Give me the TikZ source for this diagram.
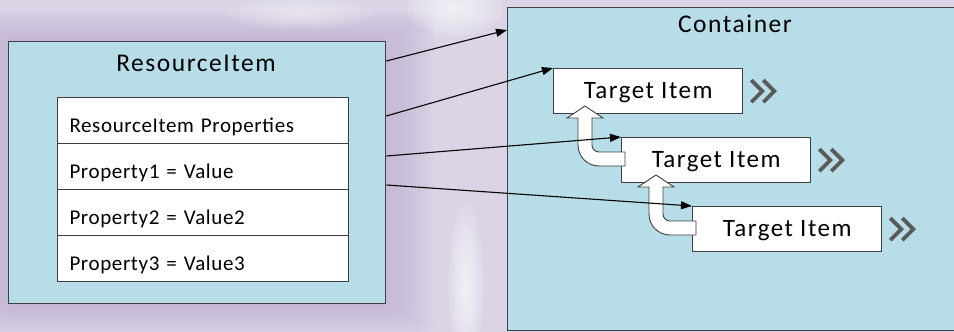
\documentclass[tikz,border=0pt]{standalone}
\usepackage{fontspec}
\setmainfont{Carlito}
\usetikzlibrary{calc,arrows.meta}

\definecolor{bglav}{HTML}{DBD4E6}
\definecolor{halo}{HTML}{BFB1D3}
\definecolor{boxblue}{HTML}{B7DEE8}
\definecolor{edge}{HTML}{3F3F3F}
\definecolor{chev}{HTML}{5A5A5A}

\newfontfamily\rowfont[LetterSpace=3]{Carlito}
\newfontfamily\bigfont[LetterSpace=6]{Carlito}

\begin{document}
\begin{tikzpicture}[x=1pt,y=-1pt,
  panel/.style={draw=edge, line width=1.3pt, fill=boxblue, rectangle, inner sep=0pt, anchor=north west},
  row/.style={draw=edge, line width=1pt, fill=white, rectangle, anchor=north west,
    inner xsep=12pt, inner ysep=0pt, text width=267pt, align=left,
    minimum height=46pt, text height=23pt, text depth=0pt,
    font=\rowfont\fontsize{21}{24}\selectfont},
  target/.style={draw=edge, line width=1.3pt, fill=white, rectangle, anchor=north west,
    inner sep=0pt, minimum width=189pt, minimum height=45pt,
    text height=15pt, text depth=0pt, font=\bigfont\fontsize{25}{28}\selectfont},
  heading/.style={anchor=base, inner sep=0pt, font=\bigfont\fontsize{25.5}{28}\selectfont},
  link/.style={line width=1.1pt, -{Triangle[length=11pt,width=8pt]}},
  bendarrow/.style={draw=edge, line width=0.9pt, fill=white, line join=miter},
  chevron/.style={draw=chev, line width=3.8pt, line cap=butt, line join=miter},
]
\useasboundingbox (0,0) rectangle (954,332);
\clip (0,0) rectangle (954,332);

% backdrop
\fill[bglav] (0,0) rectangle (954,332);
\foreach \i in {1,...,12}
  \fill[halo, opacity=0.09, rounded corners=12pt]
    ($(8,41)+(-3*\i,-2.5*\i)$) rectangle ($(385,303)+(4*\i,2.5*\i)$);
\foreach \i in {1,...,8} {
  \fill[white, opacity=0.12] (455,8) ellipse ({6*\i} and {3.5*\i});
  \fill[white, opacity=0.12] (466,285) ellipse ({2.2*\i} and {10*\i});
  \fill[white, opacity=0.08] (300,14) ellipse ({9*\i} and {2*\i});
}

% source object
\node[panel, minimum width=377pt, minimum height=262pt] (res) at (8,41) {};
\node[heading] (restitle) at (196,71) {ResourceItem};
\node[row] (p0) at (57,97)  {ResourceItem Properties};
\node[row] (p1) at (57,143) {Property1 = Value};
\node[row] (p2) at (57,189) {Property2 = Value2};
\node[row] (p3) at (57,235) {Property3 = Value3};

% container with target items
\node[panel, minimum width=452pt, minimum height=323pt] (con) at (507,7) {};
\node[heading] (contitle) at (735,32) {Container};
\node[target] (ti1) at (553,68)  {Target Item};
\node[target] (ti2) at (621,137) {Target Item};
\node[target] (ti3) at (692,206) {Target Item};

% forwarding chevrons
\foreach \t in {ti1,ti2,ti3} {
  \draw[chevron] ($(\t.east)+(8,-11)$) -- ++(11,11) -- ++(-11,11);
  \draw[chevron] ($(\t.east)+(20,-11)$) -- ++(11,11) -- ++(-11,11);
}

% bent arrows from each item up to the one before it
\foreach \t in {ti2,ti3}
  \draw[bendarrow, shift={(\t.north west)}]
    (4,29) -- (-22,29) .. controls (-33.6,29) and (-43,19.6) .. (-43,8)
    -- (-43,-19) -- (-54,-19) -- (-36,-31) -- (-18,-19) -- (-29,-19)
    -- (-29,8) .. controls (-29,11.9) and (-25.9,15) .. (-22,15)
    -- (4,15) -- cycle;

% bindings
\coordinate (r1) at ($(res.north east)+(0,20)$);
\coordinate (r2) at ($(res.north east)+(0,75)$);
\coordinate (r3) at ($(res.north east)+(0,115)$);
\coordinate (r4) at ($(res.north east)+(0,144)$);
\coordinate (c1) at ($(con.north west)+(0,23)$);
\draw[link] (r1) -- (c1);
\draw[link] (r2) -- (ti1.north west);
\draw[link] (r3) -- (ti2.north west);
\draw[link] (r4) -- (ti3.north west);
\end{tikzpicture}
\end{document}
